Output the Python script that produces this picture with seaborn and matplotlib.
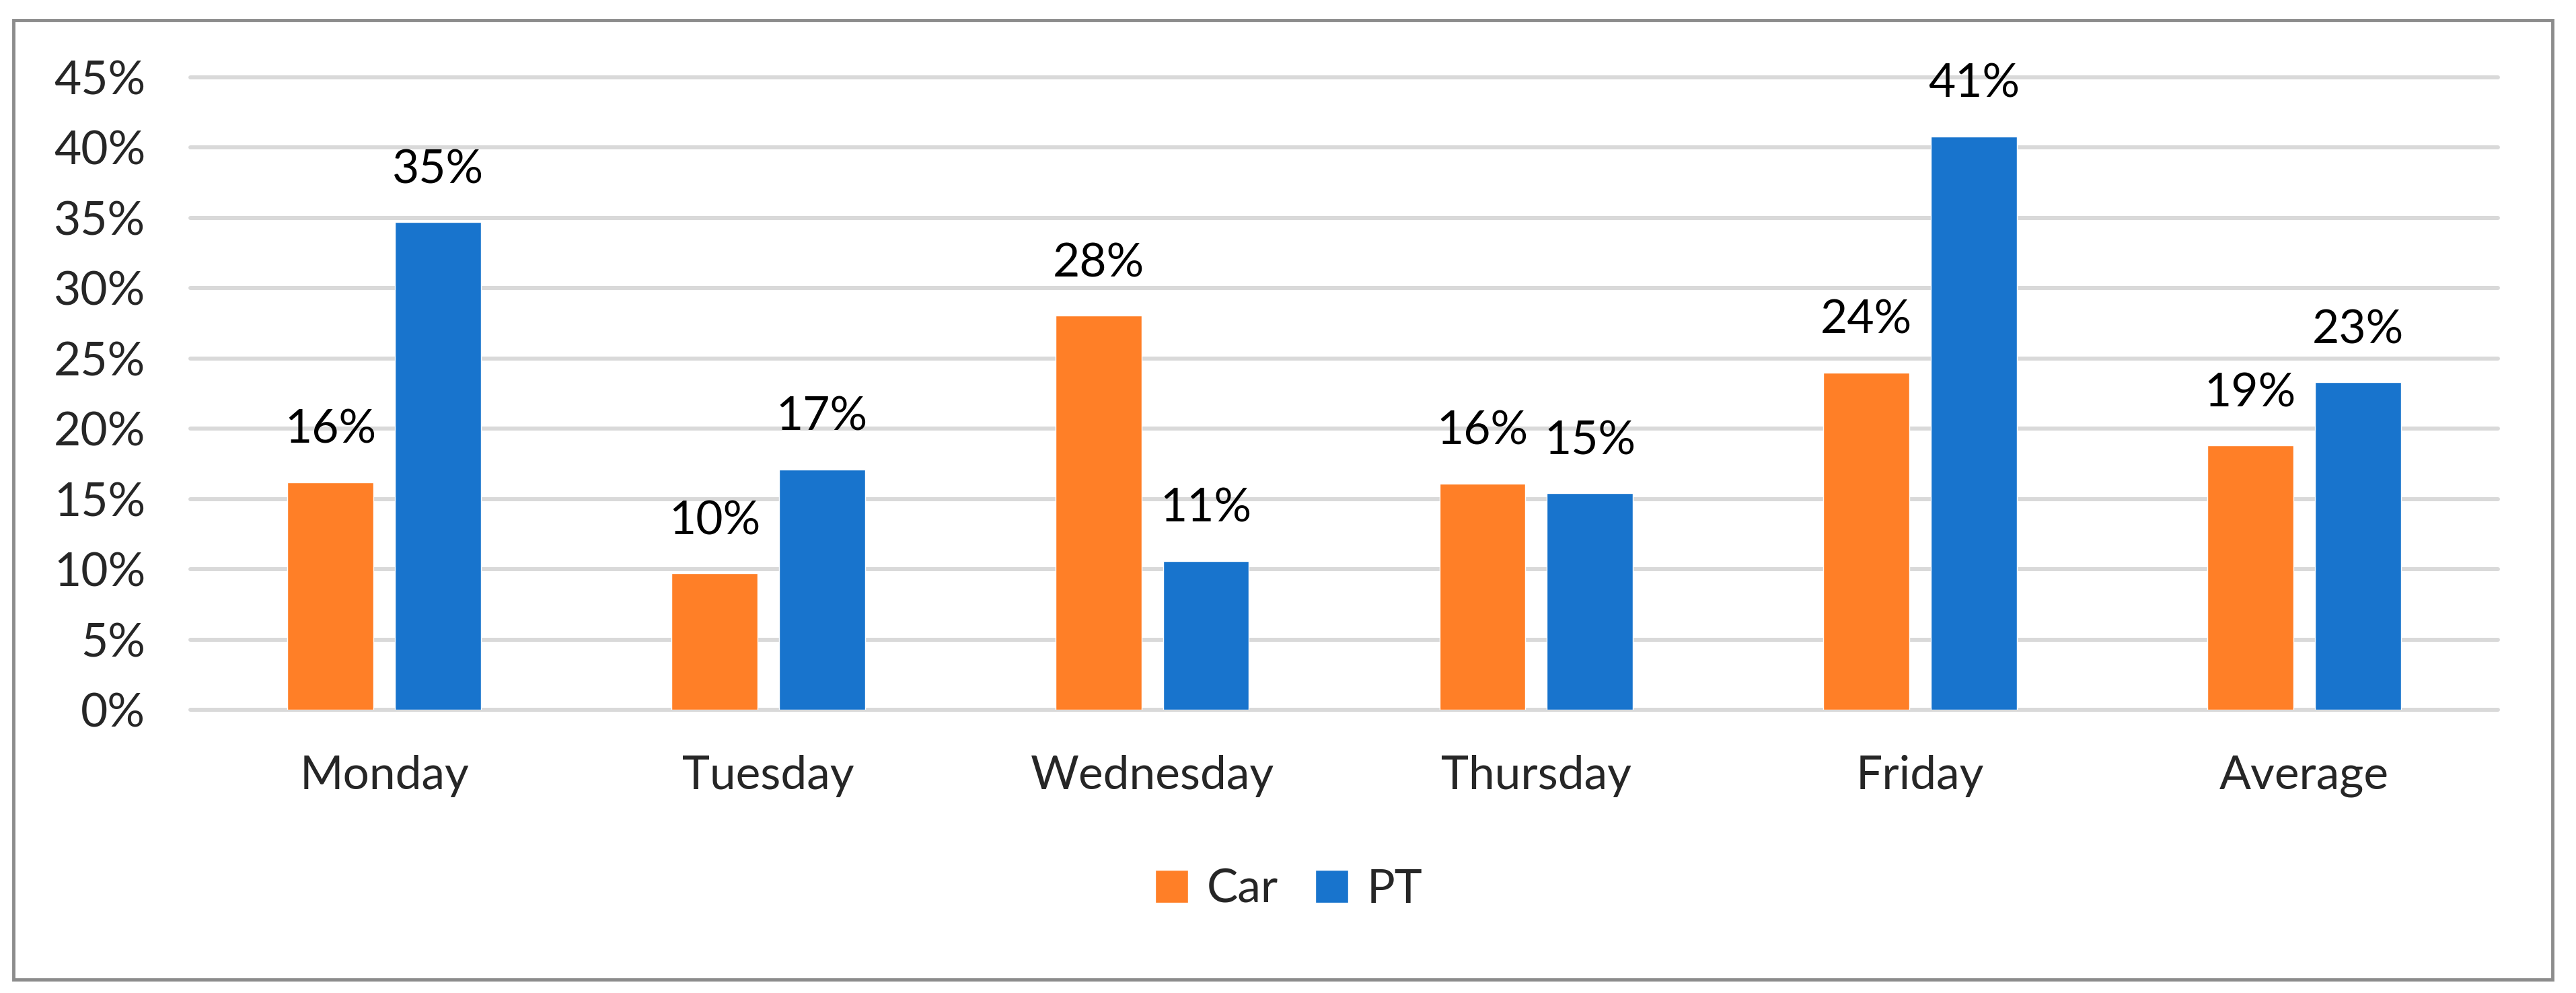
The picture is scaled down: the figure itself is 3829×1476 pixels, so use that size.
import matplotlib
matplotlib.use("Agg")
import matplotlib.pyplot as plt
import seaborn as sns
import pandas as pd
from matplotlib.patches import Rectangle, Patch
from matplotlib.ticker import PercentFormatter

# values (share, 0-1)
days = ["Monday", "Tuesday", "Wednesday", "Thursday", "Friday", "Average"]
car = [0.162, 0.097, 0.2805, 0.161, 0.240, 0.188]
pt = [0.347, 0.171, 0.106, 0.154, 0.408, 0.233]
modes = ["Car", "PT"]
colors = {"Car": "#FF7F27", "PT": "#1874CD"}
yticks = [0, 0.05, 0.10, 0.15, 0.20, 0.25, 0.30, 0.35, 0.40, 0.45]

df = pd.DataFrame({
    "Day": days * 2,
    "Mode": ["Car"] * len(days) + ["PT"] * len(days),
    "Share": car + pt,
})

sns.set_style("white")
plt.rcParams["font.family"] = ["Lato", "DejaVu Sans"]
fs = 50

fig = plt.figure(figsize=(38.3, 14.76), dpi=100)
ax = fig.add_axes([283 / 3830, 1 - 1055 / 1476, (3713 - 283) / 3830, (1055 - 115) / 1476])

sns.barplot(data=df, x="Day", y="Share", hue="Mode", hue_order=modes,
            palette=colors, width=0.56, gap=0.2, errorbar=None,
            saturation=1, legend=False, ax=ax)

for cont in ax.containers:
    ax.bar_label(cont, labels=[f"{b.get_height():.0%}" for b in cont],
                 padding=33, fontsize=fs, color="black")

ax.set_ylim(0, 0.45)
ax.set_xlim(-0.505, 5.505)
ax.set_yticks(yticks)
ax.yaxis.set_major_formatter(PercentFormatter(1.0, decimals=0))
ax.set_xlabel("")
ax.set_ylabel("")
ax.yaxis.grid(True, color="#D9D9D9", linewidth=4.3)
ax.set_axisbelow(True)
for line in ax.get_ygridlines():
    line.set_clip_on(False)
for s in ax.spines.values():
    s.set_visible(False)
ax.tick_params(axis="y", length=0, pad=48, labelsize=fs)
ax.tick_params(axis="x", length=0, pad=48, labelsize=fs)

handles = [Patch(facecolor=colors[m], label=m) for m in modes]
fig.legend(handles=handles, loc="center", bbox_to_anchor=(1916 / 3830, 1 - 1322 / 1476),
           ncol=2, frameon=False, fontsize=fs, handlelength=0.7, handleheight=0.7,
           handletextpad=0.4, columnspacing=0.8)

# outer chart border
fig.patches.append(Rectangle((20 / 3830, 20 / 1476), (3794 - 20) / 3830, (1446 - 20) / 1476,
                             transform=fig.transFigure, fill=False,
                             edgecolor="#8C8C8C", linewidth=3.5))

fig.savefig("out.png", dpi=100, facecolor="white")
